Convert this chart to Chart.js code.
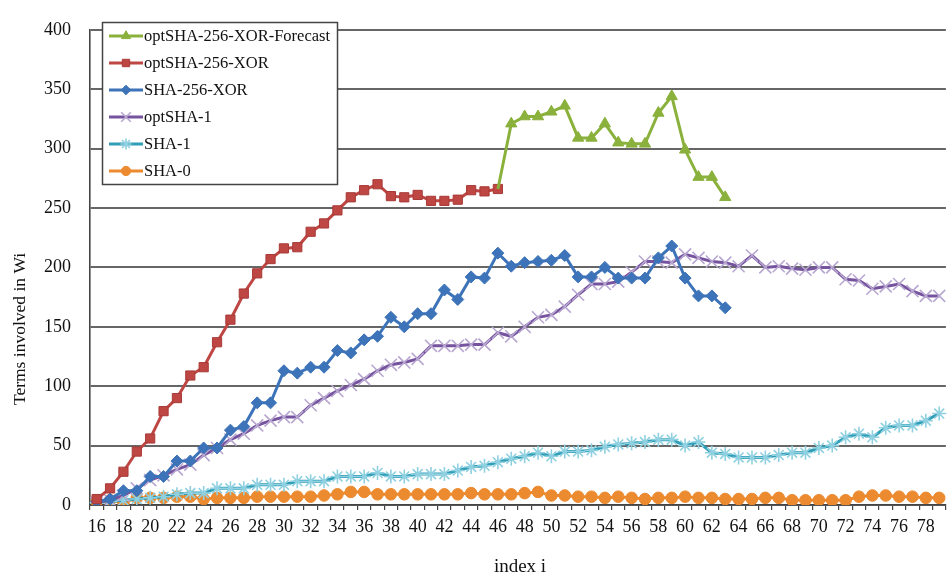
<!DOCTYPE html>
<html><head><meta charset="utf-8">
<script src="https://cdn.jsdelivr.net/npm/chart.js@4.4.1/dist/chart.umd.min.js"></script>
<style>
html,body{margin:0;padding:0;overflow:hidden;background:#fff;width:952px;height:580px}
#wrap{position:absolute;left:0;top:0;width:956px;height:580px}
</style>
</head><body><div id="wrap"><canvas id="c" width="956" height="580"></canvas></div>
<script>
const categories = [16,17,18,19,20,21,22,23,24,25,26,27,28,29,30,31,32,33,34,35,36,37,38,39,40,41,42,43,44,45,46,47,48,49,50,51,52,53,54,55,56,57,58,59,60,61,62,63,64,65,66,67,68,69,70,71,72,73,74,75,76,77,78,79];
const yTicks = [0,50,100,150,200,250,300,350,400];
const seriesNames = ["optSHA-256-XOR-Forecast","optSHA-256-XOR","SHA-256-XOR","optSHA-1","SHA-1","SHA-0"];
const xTitle = "index i";
const yTitle = "Terms involved in Wi";

// index 16..79
const forecast = [null,null,null,null,null,null,null,null,null,null,null,null,null,null,null,null,null,null,null,null,null,null,null,null,null,null,null,null,null,null,
  266,321,327,327,331,336,309,309,321,305,304,304,330,344,299,276,276,259];
const optSha256Xor = [5,14,28,45,56,79,90,109,116,137,156,178,195,207,216,217,230,237,248,259,265,270,260,259,261,256,256,257,265,264,266];
const sha256Xor = [3,5,12,12,24,24,37,37,48,48,63,66,86,86,113,111,116,116,130,128,139,142,158,150,161,161,181,173,192,191,212,201,204,205,206,210,192,192,200,191,191,191,208,218,191,176,176,166];
const optSha1 = [2,4,8,14,21,25,30,34,42,48,55,60,67,71,74,74,84,90,96,101,106,113,118,120,123,134,134,134,135,135,145,142,150,158,160,167,177,186,186,188,196,205,205,204,211,208,205,204,201,210,200,201,199,198,200,200,190,189,182,184,186,180,176,176];
const sha1 = [2,3,4,5,6,7,9,10,10,14,14,14,17,17,17,20,20,20,24,24,24,27,24,24,26,26,26,29,32,33,36,39,41,44,41,45,45,46,49,51,52,53,55,55,50,53,44,43,40,40,40,42,44,44,48,50,57,60,57,65,67,67,71,77];
const sha0 = [3,4,2,6,6,6,7,7,5,6,6,6,7,7,7,7,7,8,9,11,11,9,9,9,9,9,9,9,10,9,9,9,10,11,8,8,7,7,6,7,6,5,6,6,7,6,6,5,5,5,6,6,4,4,4,4,4,7,8,8,7,7,6,6];

const SERIF = "'Liberation Serif','Times New Roman',serif";

const styles = [
  {line:'#8AB13C', bg:'#8AB13C', border:'#8AB13C', ps:'triangle', r:6.5, bw:1},
  {line:'#BE4744', bg:'#BE4744', border:'#A83A37', ps:'rect', r:6.5, bw:1},
  {line:'#3D73B8', bg:'#3D73B8', border:'#3D73B8', ps:'rectRot', r:6, bw:1},
  {line:'#76539F', bg:'#B8A7D0', border:'#B8A7D0', ps:'crossRot', r:8.5, bw:1.6},
  {line:'#2F9EB6', bg:'#8FD0E1', border:'#8FD0E1', ps:'star', r:7, bw:1.6},
  {line:'#EC8A2F', bg:'#EC8A2F', border:'#EC8A2F', ps:'circle', r:5.8, bw:1}
];
const values = [forecast, optSha256Xor, sha256Xor, optSha1, sha1, sha0];

const datasets = values.map((v,i)=>({
  label: seriesNames[i],
  data: v,
  borderColor: styles[i].line,
  backgroundColor: styles[i].bg,
  pointBackgroundColor: styles[i].bg,
  pointBorderColor: styles[i].border,
  pointBorderWidth: styles[i].bw,
  pointStyle: styles[i].ps,
  // the forecast line starts from the last optSHA-256-XOR square without its own marker there
  pointRadius: i === 0 ? (c => (c.dataIndex > 0 && v[c.dataIndex-1] === null) ? 0 : styles[0].r) : styles[i].r,
  borderWidth: 3,
  tension: 0,
  spanGaps: false,
  fill: false
}));

const overlay = {
  id:'overlay',
  afterDraw(chart){
    const ctx = chart.ctx;
    ctx.save();
    ctx.fillStyle = '#111';
    ctx.font = '17.5px ' + SERIF;
    ctx.textAlign = 'center';
    ctx.textBaseline = 'middle';
    ctx.save();
    ctx.translate(20, 329);
    ctx.rotate(-Math.PI/2);
    ctx.fillText(yTitle, 0, 0);
    ctx.restore();
    ctx.font = '19px ' + SERIF;
    ctx.fillText(xTitle, 520, 567);
    // legend box
    const bx = 102.5, by = 22.5, bw = 235, bh = 162;
    ctx.fillStyle = '#fff';
    ctx.fillRect(bx, by, bw, bh);
    ctx.strokeStyle = '#444';
    ctx.lineWidth = 1.5;
    ctx.strokeRect(bx, by, bw, bh);
    ctx.font = '16.5px ' + SERIF;
    ctx.textAlign = 'left';
    for (let i = 0; i < seriesNames.length; i++) {
      const y = 36 + i*27;
      const s = styles[i];
      ctx.strokeStyle = s.line;
      ctx.lineWidth = 3;
      ctx.beginPath(); ctx.moveTo(109, y); ctx.lineTo(143, y); ctx.stroke();
      ctx.fillStyle = s.bg; ctx.strokeStyle = s.border; ctx.lineWidth = s.bw;
      if (Chart.helpers && Chart.helpers.drawPoint) {
        Chart.helpers.drawPoint(ctx, {pointStyle: s.ps, radius: s.r*0.8, rotation: 0, borderWidth: s.bw}, 126, y);
      }
      ctx.fillStyle = '#111';
      ctx.fillText(seriesNames[i], 144, y+1);
    }
    ctx.restore();
  }
};

new Chart(document.getElementById('c'), {
  type:'line',
  data:{labels: categories, datasets},
  options:{
    responsive:false,
    animation:false,
    layout:{padding:{top:13.5, right:0, left:0, bottom:0}},
    plugins:{legend:{display:false}, tooltip:{enabled:false}},
    scales:{
      x:{
        type:'category',
        offset:true,
        grid:{display:true, drawOnChartArea:false, drawTicks:true, tickLength:5, color:'#444', lineWidth:1.2, offset:true},
        border:{display:true, color:'#444', width:1.6},
        ticks:{autoSkip:false, maxRotation:0, minRotation:0, padding:6, color:'#111',
          font:{family:SERIF, size:18},
          callback:function(val, idx){ const c = categories[idx]; return (c % 2 === 0) ? String(c) : ''; }},
        afterFit(scale){ scale.height = 75; }
      },
      y:{
        min:0, max:400,
        afterBuildTicks(scale){ scale.ticks = yTicks.map(v=>({value:v})); },
        grid:{color:'#666', lineWidth:2, drawTicks:false},
        border:{display:true, color:'#444', width:1.6},
        ticks:{padding:19, color:'#111', font:{family:SERIF, size:18}},
        afterFit(scale){ scale.width = 90; }
      }
    }
  },
  plugins:[overlay]
});
</script>
</body></html>
